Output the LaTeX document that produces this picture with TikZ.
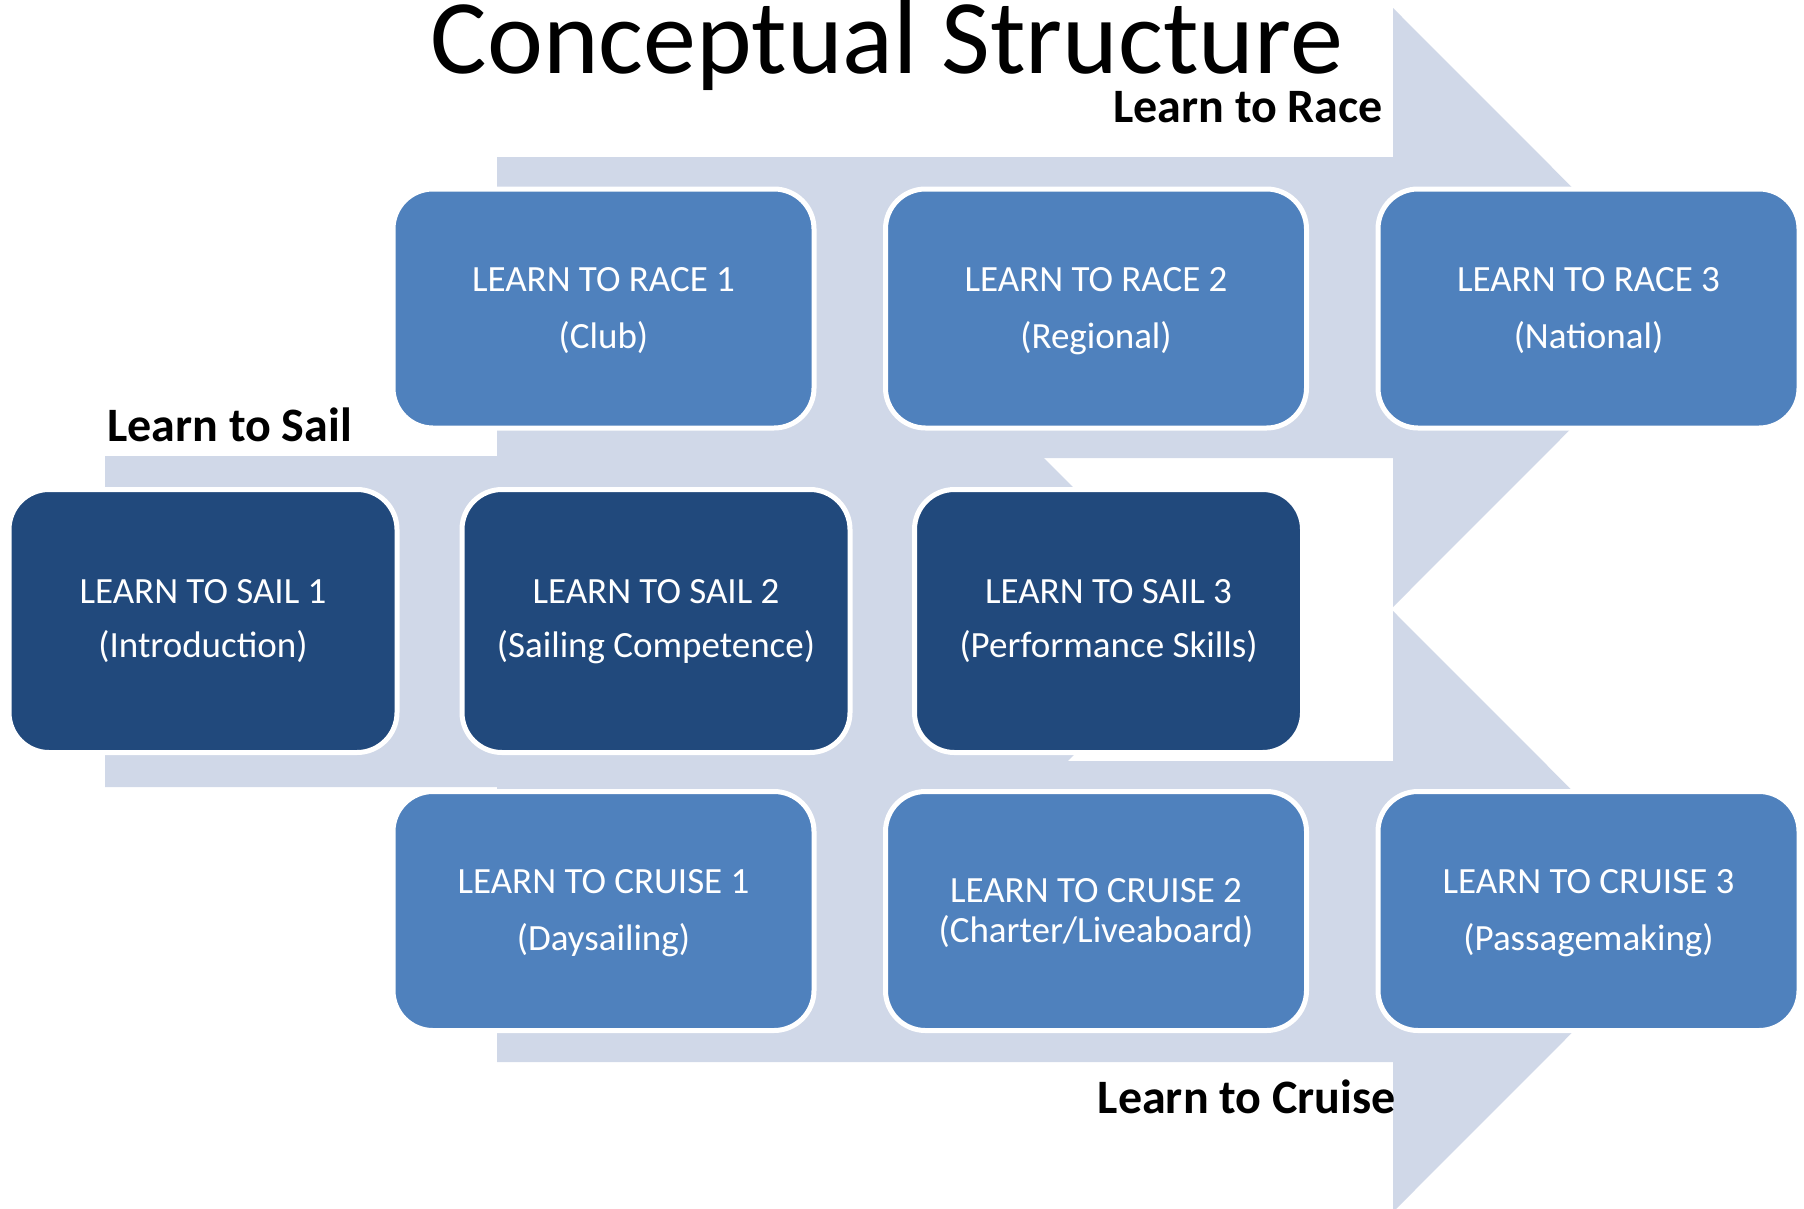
\documentclass[tikz,border=0pt]{standalone}
\usepackage{fontspec}
\setmainfont{Carlito}
\definecolor{arrowfill}{RGB}{208,216,232}
\definecolor{racefill}{RGB}{79,129,189}
\definecolor{sailfill}{RGB}{33,73,124}
\begin{document}
\begin{tikzpicture}[x=1pt,y=-1pt,
  boxbase/.style={draw=white, line width=5pt, rounded corners=40pt, align=center,
    text=white, inner sep=0pt, font=\fontsize{37}{57}\selectfont, text height=87pt, text depth=8pt},
  racebox/.style={boxbase, fill=racefill, minimum width=421pt, minimum height=239pt},
  sailbox/.style={boxbase, fill=sailfill, minimum width=388pt, minimum height=263pt,
    font=\fontsize{37}{54}\selectfont, text height=82pt, text depth=10pt},
  trackname/.style={font=\fontsize{48}{50}\selectfont\bfseries, text=black, inner sep=0pt},
  trackarrow/.style={fill=arrowfill}]
\useasboundingbox (0,0) rectangle (1804,1208);
\fill[white] (0,0) rectangle (1804,1208);
\begin{scope}
\clip (0,0) rectangle (1804,1208);
% Learn to Race arrow
\fill[trackarrow] (497,157) -- (1393,157) -- (1393,8) -- (1692,307.5) -- (1393,607) -- (1393,458) -- (497,458) -- cycle;
% Learn to Sail arrow
\fill[trackarrow] (105,456) -- (1042,456) -- (1207,621.5) -- (1042,787) -- (105,787) -- cycle;
% Learn to Cruise arrow
\fill[trackarrow] (497,761) -- (1393,761) -- (1393,611) -- (1693,911.5) -- (1393,1212) -- (1393,1062) -- (497,1062) -- cycle;
\end{scope}

\node[font=\fontsize{106}{110}\selectfont, inner sep=0pt, anchor=base] (title) at (887,73) {Conceptual Structure};
\node[trackname, anchor=base east] (lrace) at (1383,122) {Learn to Race};
\node[trackname, anchor=base west] (lsail) at (107,441) {Learn to Sail};
\node[trackname, anchor=base east] (lcruise) at (1396,1113) {Learn to Cruise};

\node[racebox] (r1) at (603.5,308.5) {LEARN TO RACE 1\\(Club)};
\node[racebox] (r2) at (1096,308.5) {LEARN TO RACE 2\\(Regional)};
\node[racebox] (r3) at (1588.5,308.5) {LEARN TO RACE 3\\(National)};

\node[sailbox] (s1) at (203,621) {LEARN TO SAIL 1\\(Introduction)};
\node[sailbox] (s2) at (656,621) {LEARN TO SAIL 2\\(Sailing Competence)};
\node[sailbox] (s3) at (1108.5,621) {LEARN TO SAIL 3\\(Performance Skills)};

\node[racebox] (c1) at (603.5,911) {LEARN TO CRUISE 1\\(Daysailing)};
\node[racebox, font=\fontsize{37}{40}\selectfont, text height=70pt] (c2) at (1096,911) {LEARN TO CRUISE 2\\(Charter/Liveaboard)};
\node[racebox] (c3) at (1588.5,911) {LEARN TO CRUISE 3\\(Passagemaking)};
\end{tikzpicture}
\end{document}
